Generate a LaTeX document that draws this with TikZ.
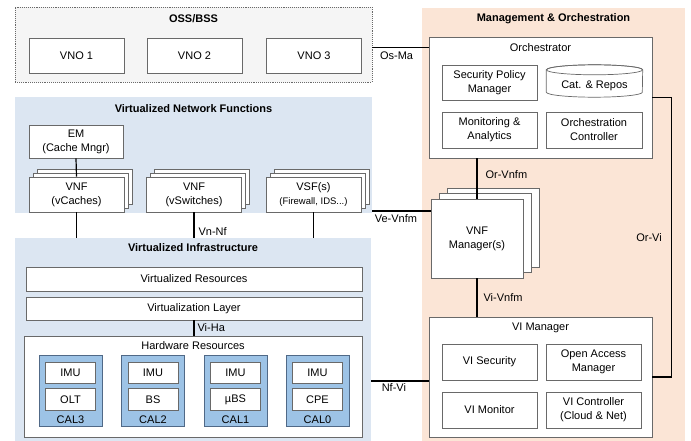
\documentclass[tikz,border=0pt]{standalone}
\usepackage{fontspec}
\setmainfont{Liberation Sans}
\usetikzlibrary{shadows}
\definecolor{vfblue}{RGB}{220,230,242}
\definecolor{moorange}{RGB}{251,229,214}
\definecolor{calblue}{RGB}{157,195,230}
\definecolor{calline}{RGB}{80,105,135}
\definecolor{boxgray}{RGB}{105,105,105}

\begin{document}
\begin{tikzpicture}[x=1pt, y=-1pt,
    every node/.style={font=\fontsize{11}{14}\selectfont, inner sep=0pt},
    region/.style={fill=vfblue},
    box/.style={draw=boxgray, line width=0.7pt, fill=white, align=center},
    stack/.style={box, double copy shadow={shadow xshift=4pt, shadow yshift=4pt}},
    cal/.style={draw=calline, line width=0.9pt, fill=calblue, minimum width=63pt, minimum height=71pt},
    hwbox/.style={box, minimum width=50pt, minimum height=21pt},
    title/.style={font=\fontsize{11}{14}\selectfont\bfseries},
    link/.style={line width=1.2pt},
    lbl/.style={font=\fontsize{11}{14}\selectfont, inner sep=2pt}]
    \useasboundingbox (0,0) rectangle (691,441);
    % OSS/BSS
    \node[draw=boxgray, densely dotted, line width=0.9pt, fill=gray!8, minimum width=357pt, minimum height=75pt] (oss) at (193.5,44.5) {};
    \node[title] (osstitle) at (193.5,19) {OSS/BSS};
    \node[box, minimum width=95pt, minimum height=35pt] (vno1) at (76.5,55.5) {VNO 1};
    \node[box, minimum width=95pt, minimum height=35pt] (vno2) at (194.5,55.5) {VNO 2};
    \node[box, minimum width=95pt, minimum height=35pt] (vno3) at (314,55.5) {VNO 3};
    % virtualized network functions
    \node[region, minimum width=357pt, minimum height=116pt] (vnfreg) at (193.5,155) {};
    \node[title] (vnftitle) at (193.5,109) {Virtualized Network Functions};
    \node[box, minimum width=94pt, minimum height=33pt] (em) at (76,141.5) {EM\\(Cache Mngr)};
    \node[stack, minimum width=95pt, minimum height=35pt] (vnfc) at (76.5,194.5) {VNF\\(vCaches)};
    \node[stack, minimum width=95pt, minimum height=35pt] (vnfs) at (194,194.5) {VNF\\(vSwitches)};
    \node[stack, minimum width=95pt, minimum height=35pt] (vsf) at (313.5,194.5) {VSF(s)\\{\fontsize{9.5}{11}\selectfont (Firewall, IDS...)}};
    % virtualized infrastructure
    \node[region, minimum width=356pt, minimum height=203pt] (vireg) at (193,339.5) {};
    \node[title] (vititle) at (193,248) {Virtualized Infrastructure};
    \node[box, minimum width=336pt, minimum height=24pt] (vres) at (194,279) {Virtualized Resources};
    \node[box, minimum width=336pt, minimum height=23pt] (vlayer) at (194,308.5) {Virtualization Layer};
    \node[box, minimum width=338pt, minimum height=101pt] (hwres) at (193,386.5) {};
    \node (hwtitle) at (193,346) {Hardware Resources};
    \node[cal] (cal3) at (70.5,390.5) {};
    \node[hwbox] (imu3) at (70.5,372.5) {IMU};
    \node[hwbox, minimum height=22pt] (olt) at (70.5,399.5) {OLT};
    \node (cal3lbl) at (70.5,420) {CAL3};
    \node[cal] (cal2) at (153,390.5) {};
    \node[hwbox] (imu2) at (153,372.5) {IMU};
    \node[hwbox, minimum height=22pt] (bs) at (153,399.5) {BS};
    \node (cal2lbl) at (153,420) {CAL2};
    \node[cal] (cal1) at (235.5,390.5) {};
    \node[hwbox] (imu1) at (235.5,372.5) {IMU};
    \node[hwbox, minimum height=22pt] (ubs) at (235.5,399.5) {µBS};
    \node (cal1lbl) at (235.5,420) {CAL1};
    \node[cal] (cal0) at (317.5,390.5) {};
    \node[hwbox] (imu0) at (317.5,372.5) {IMU};
    \node[hwbox, minimum height=22pt] (cpe) at (317.5,399.5) {CPE};
    \node (cal0lbl) at (317.5,420) {CAL0};
    % management and orchestration
    \node[fill=moorange, minimum width=263pt, minimum height=433pt] (mano) at (553.5,224.5) {};
    \node[title] (manotitle) at (553.5,19) {Management \& Orchestration};
    \node[box, minimum width=223pt, minimum height=121pt] (orch) at (540.5,97.5) {};
    \node (orchtitle) at (540.5,48) {Orchestrator};
    \node[box, minimum width=95pt, minimum height=35pt] (spm) at (489.5,82.5) {Security Policy\\Manager};
    \node[minimum width=96pt, minimum height=32pt] (cat) at (594.5,81) {};
    \draw[draw=boxgray, line width=0.7pt, fill=white] ([yshift=-5pt]cat.north west) -- ([yshift=5pt]cat.south west)
        arc[start angle=180, end angle=360, x radius=48pt, y radius=5pt] -- ([yshift=-5pt]cat.north east)
        arc[start angle=0, end angle=180, x radius=48pt, y radius=5pt] -- cycle;
    \draw[draw=boxgray, line width=0.7pt] ([yshift=-5pt]cat.north) ellipse[x radius=48pt, y radius=5pt];
    \node (cattext) at (594.5,86) {Cat. \& Repos};
    \node[box, minimum width=95pt, minimum height=36pt] (mon) at (489.5,130) {Monitoring \&\\Analytics};
    \node[box, minimum width=96pt, minimum height=36pt] (occ) at (594,130) {Orchestration\\Controller};
    \node[box, double copy shadow={shadow xshift=8pt, shadow yshift=5.5pt}, minimum width=92pt, minimum height=79pt] (vnfm) at (477,238.5) {VNF\\Manager(s)};
    \node[box, minimum width=223pt, minimum height=120pt] (vim) at (540.5,377) {};
    \node (vimtitle) at (540.5,328) {VI Manager};
    \node[box, minimum width=95pt, minimum height=36pt] (visec) at (489.5,362) {VI Security};
    \node[box, minimum width=95pt, minimum height=36pt] (oam) at (593.5,362) {Open Access\\Manager};
    \node[box, minimum width=95pt, minimum height=36pt] (vimon) at (489.5,410) {VI Monitor};
    \node[box, minimum width=95pt, minimum height=36pt] (victl) at (593.5,410) {VI Controller\\(Cloud \& Net)};
    % reference points
    \draw[link] ([yshift=-3pt]oss.east) -- ([yshift=-3pt]oss.east -| orch.west) node[lbl, pos=0, below right, xshift=5pt, yshift=-2pt] {Os-Ma};
    \draw[link] ([yshift=27.5pt]vnfm.west) -- ([yshift=27.5pt]vnfm.west -| vnfreg.east) node[lbl, pos=1, below right, yshift=-1pt] {Ve-Vnfm};
    \draw[link] ([yshift=-4pt]vim.west -| vireg.east) -- ([yshift=-4pt]vim.west) node[lbl, pos=0, below right, xshift=8pt] {Nf-Vi};
    \draw[link] (vnfm.north) -- (vnfm.north |- orch.south) node[lbl, pos=0.6, right, xshift=6pt] {Or-Vnfm};
    \draw[link] (vnfm.south) -- (vnfm.south |- vim.north) node[lbl, midway, right, xshift=4pt] {Vi-Vnfm};
    \draw[link] (orch.east) -- ++(19,0) |- (vim.east) node[lbl, pos=0.25, left, xshift=-7pt] {Or-Vi};
    \draw[link] (em.south) -- (vnfc.north);
    \draw[link] (vnfc.south) -- (vnfc.south |- vireg.north);
    \draw[link] (vnfs.south) -- (vnfs.south |- vireg.north) node[lbl, pos=0.75, right, xshift=2pt] {Vn-Nf};
    \draw[link] (vsf.south) -- (vsf.south |- vireg.north);
    \draw[link] (vlayer.south) -- (vlayer.south |- hwres.north) node[lbl, midway, right, xshift=1pt] {Vi-Ha};
\end{tikzpicture}
\end{document}
